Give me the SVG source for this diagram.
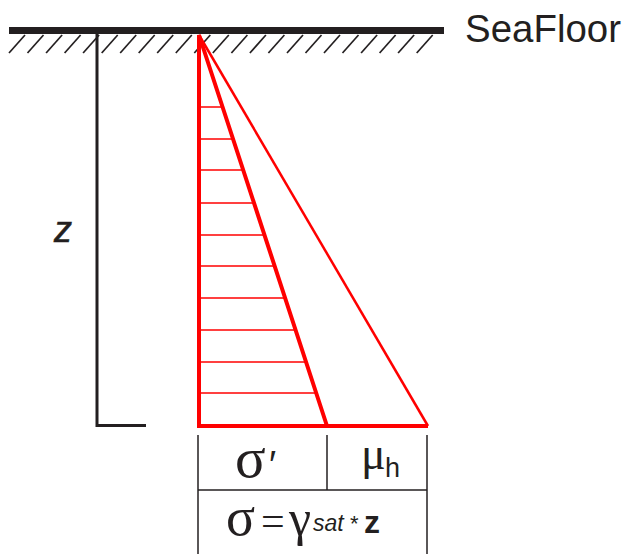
<svg xmlns="http://www.w3.org/2000/svg" width="627" height="554" viewBox="0 0 627 554">
<style>
.blk{stroke:#231f20;fill:none}
.red{stroke:#ff0000;fill:none}
.hatch{stroke:#231f20;stroke-width:1.7}
.sans{font-family:"Liberation Sans",Arial,sans-serif;fill:#231f20}
.greek{font-family:"Liberation Serif","Times New Roman",serif;fill:#231f20}
</style>
<rect width="627" height="554" fill="#fff"/>
<g id="seafloor">
<line class="blk" x1="9" y1="30.5" x2="444" y2="30.5" stroke-width="7"/>
<g class="hatch">
<line x1="9" y1="53" x2="25" y2="35"/><line x1="27.5" y1="53" x2="43.5" y2="35"/><line x1="46.1" y1="53" x2="62.1" y2="35"/><line x1="64.6" y1="53" x2="80.6" y2="35"/><line x1="83.1" y1="53" x2="99.1" y2="35"/><line x1="101.7" y1="53" x2="117.7" y2="35"/><line x1="120.2" y1="53" x2="136.2" y2="35"/><line x1="138.7" y1="53" x2="154.7" y2="35"/><line x1="157.2" y1="53" x2="173.2" y2="35"/><line x1="175.8" y1="53" x2="191.8" y2="35"/><line x1="194.3" y1="53" x2="210.3" y2="35"/><line x1="212.8" y1="53" x2="228.8" y2="35"/><line x1="231.4" y1="53" x2="247.4" y2="35"/><line x1="249.9" y1="53" x2="265.9" y2="35"/><line x1="268.4" y1="53" x2="284.4" y2="35"/><line x1="287" y1="53" x2="303" y2="35"/><line x1="305.5" y1="53" x2="321.5" y2="35"/><line x1="324" y1="53" x2="340" y2="35"/><line x1="342.5" y1="53" x2="358.5" y2="35"/><line x1="361.1" y1="53" x2="377.1" y2="35"/><line x1="379.6" y1="53" x2="395.6" y2="35"/><line x1="398.1" y1="53" x2="414.1" y2="35"/><line x1="416.7" y1="53" x2="432.7" y2="35"/>
</g>
<text class="sans" x="465" y="42" font-size="39" textLength="156" lengthAdjust="spacingAndGlyphs">SeaFloor</text>
</g>
<g id="depth-axis">
<polyline class="blk" points="97,34 97,425.5 146,425.5" stroke-width="3"/>
<text class="sans" x="54" y="242" font-size="36" font-style="italic" stroke="#231f20" stroke-width="0.6">z</text>
</g>
<g id="stress-diagram">
<line class="red" x1="199" y1="35" x2="428" y2="426" stroke-width="2.5"/>
<g class="red" stroke-width="1.5">
<line x1="197" y1="107" x2="222.6" y2="107"/><line x1="197" y1="139" x2="233" y2="139"/><line x1="197" y1="170" x2="243.2" y2="170"/><line x1="197" y1="203" x2="254" y2="203"/><line x1="197" y1="235" x2="264.5" y2="235"/><line x1="197" y1="266" x2="274.6" y2="266"/><line x1="197" y1="298" x2="285.1" y2="298"/><line x1="197" y1="330" x2="295.6" y2="330"/><line x1="197" y1="362" x2="306.1" y2="362"/><line x1="197" y1="393" x2="316.2" y2="393"/>
</g>
<polyline class="red" points="327,426 199,35 199,426 428,426" stroke-width="4" stroke-linejoin="miter"/>
</g>
<g id="table">
<g class="blk" stroke-width="1.5">
<line x1="198" y1="435" x2="198" y2="554"/>
<line x1="327" y1="435" x2="327" y2="490"/>
<line x1="427" y1="435" x2="427" y2="554"/>
<line x1="198" y1="490" x2="427" y2="490"/>
</g>
<text class="greek" x="235" y="477" font-size="57">σ</text>
<text class="sans" x="269" y="478" font-size="38">′</text>
<text class="greek" x="361" y="469" font-size="46">μ</text>
<text class="sans" x="385" y="477" font-size="27">h</text>
<text class="greek" x="226" y="535" font-size="54">σ</text>
<text class="greek" x="261" y="535" font-size="42">=</text>
<text class="greek" x="289" y="535" font-size="50">γ</text>
<text class="sans" x="313" y="531" font-size="23" font-style="italic">sat</text>
<text class="sans" x="350" y="531" font-size="22">*</text>
<text class="sans" x="364" y="533" font-size="32" font-weight="bold">z</text>
</g>
</svg>
